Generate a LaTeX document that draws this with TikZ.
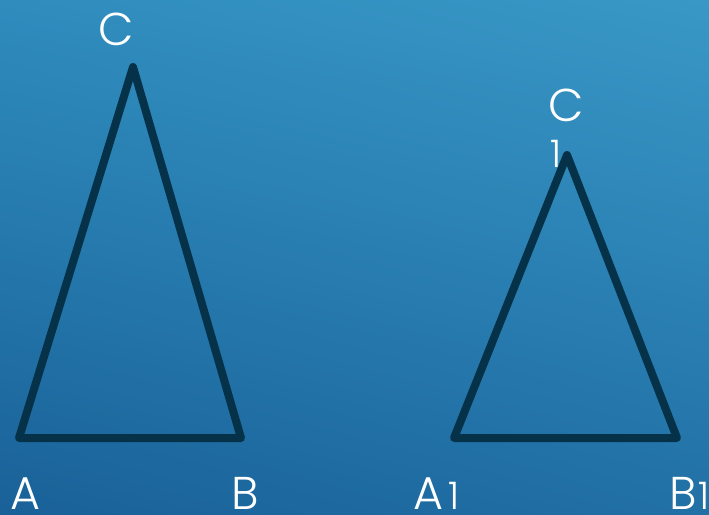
\documentclass[tikz,border=0pt]{standalone}
\usepackage{fontspec}
\usetikzlibrary{shadings}
\setmainfont{Poppins Light}
\definecolor{bgtl}{RGB}{47,140,189}
\definecolor{bgtr}{RGB}{57,152,198}
\definecolor{bgbl}{RGB}{25,97,152}
\definecolor{bgbr}{RGB}{33,112,166}
\definecolor{edge}{RGB}{5,50,72}
\begin{document}
\begin{tikzpicture}[x=1pt,y=-1pt,
  tri/.style={draw=edge,line width=8pt,line join=round,line cap=round},
  lbl/.style={text=white,font=\fontsize{46}{46}\selectfont,inner sep=0pt,anchor=base},
  sub/.style={text=white,font=\fontsize{38}{38}\selectfont,inner sep=0pt,anchor=base}]
\useasboundingbox (0,0) rectangle (709,514);
\shade[lower left=bgbl,upper right=bgtr,lower right=bgbr,upper left=bgtl] (0,0) rectangle (709,514);
% first triangle
\coordinate (A) at (19,438);
\coordinate (B) at (241,438);
\coordinate (C) at (133,67);
\draw[tri] (A) -- (B) -- (C) -- cycle;
% second triangle
\coordinate (A1) at (454,438);
\coordinate (B1) at (677,438);
\coordinate (C1) at (567,155);
\draw[tri] (A1) -- (B1) -- (C1) -- cycle;
% labels
\node[lbl] (lC) at (116,45) {C};
\node[lbl] (lA) at (25,509) {A};
\node[lbl] (lB) at (245,509) {B};
\node[lbl] (lA1) at (428,509) {A};
\node[sub] (lA1s) at (454,509) {1};
\node[lbl] (lB1) at (683,509) {B};
\node[sub] (lB1s) at (704,509) {1};
\node[lbl] (lC1) at (566,121) {C};
\node[sub] (lC1s) at (556,167) {1};
\end{tikzpicture}
\end{document}
